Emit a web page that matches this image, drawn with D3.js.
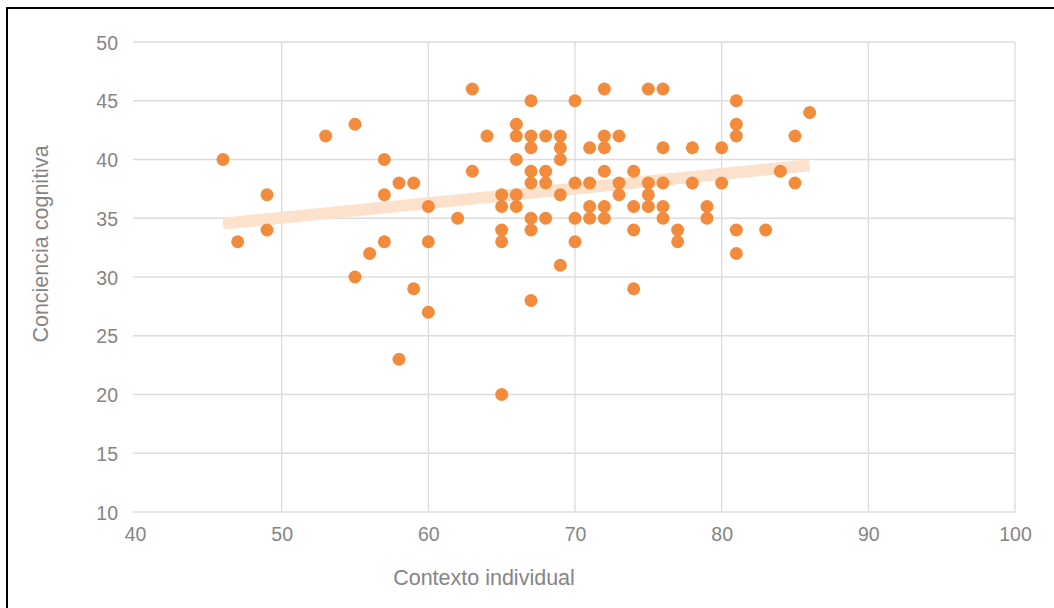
<!DOCTYPE html>
<html><head><meta charset="utf-8">
<script src="https://cdn.jsdelivr.net/npm/d3@7"></script>
<style>html,body{margin:0;padding:0;background:#fff;}</style>
</head><body>
<svg id="chart" width="1054" height="608"></svg>
<script>
// Data: Contexto individual (x) vs Conciencia cognitiva (y)
const contextoIndividual = [46,47,49,49,53,55,55,56,57,57,57,58,58,59,59,60,60,60,62,63,63,64,
  65,65,65,65,65,66,66,66,66,66,67,67,67,67,67,67,67,67,68,68,68,68,69,69,69,69,69,
  70,70,70,70,71,71,71,71,72,72,72,72,72,72,73,73,73,74,74,74,74,75,75,75,75,
  76,76,76,76,76,77,77,78,78,79,79,80,80,81,81,81,81,81,83,84,85,85,86];
const concienciaCognitiva = [40,33,37,34,42,43,30,32,40,37,33,38,23,38,29,36,33,27,35,46,39,42,
  37,36,34,33,20,43,42,40,37,36,45,42,41,39,38,35,34,28,42,39,38,35,42,41,40,37,31,
  45,38,35,33,41,38,36,35,46,42,41,39,36,35,42,38,37,39,36,34,29,46,38,37,36,
  46,41,38,36,35,34,33,41,38,36,35,41,38,45,43,42,34,32,34,39,42,38,44];
const xTicks = [40,50,60,70,80,90,100];
const yTicks = [10,15,20,25,30,35,40,45,50];
const xTitle = "Contexto individual";
const yTitle = "Conciencia cognitiva";

const svg = d3.select("#chart");
// frame
svg.append("rect").attr("x",7).attr("y",8).attr("width",1060).attr("height",620)
  .attr("fill","none").attr("stroke","#000").attr("stroke-width",2);

const x = d3.scaleLinear().domain([40,100]).range([135,1015]);
const y = d3.scaleLinear().domain([10,50]).range([512,42]);

// grid
svg.append("g").selectAll("line").data(yTicks).join("line")
  .attr("x1",133).attr("x2",1015).attr("y1",d=>y(d)).attr("y2",d=>y(d))
  .attr("stroke","#dcdcdc").attr("stroke-width",1.3);
svg.append("g").selectAll("line").data(xTicks.filter(d=>d>40)).join("line")
  .attr("x1",d=>x(d)).attr("x2",d=>x(d)).attr("y1",42).attr("y2",512)
  .attr("stroke","#dcdcdc").attr("stroke-width",1.3);

// axes labels via d3 axes
const font = "Arial, 'Liberation Sans', sans-serif";
const yAxis = svg.append("g").attr("transform","translate(118,0)")
  .call(d3.axisLeft(y).tickValues(yTicks).tickSize(0).tickPadding(0));
yAxis.select(".domain").remove();
yAxis.selectAll("text").attr("font-family",font).attr("font-size",19.5).attr("fill","#858585").attr("dy","0.36em");

const xAxis = svg.append("g").attr("transform","translate(0,526)")
  .call(d3.axisBottom(x).tickValues(xTicks).tickSize(0).tickPadding(0));
xAxis.select(".domain").remove();
xAxis.selectAll("text").attr("font-family",font).attr("font-size",19.5).attr("fill","#858585").attr("dy","0.76em");

// titles
svg.append("text").attr("x",484).attr("y",585).attr("text-anchor","middle")
  .attr("font-family",font).attr("font-size",21.5).attr("fill","#858585").text(xTitle);
svg.append("text").attr("transform","translate(48,244) rotate(-90)").attr("text-anchor","middle")
  .attr("font-family",font).attr("font-size",21.5).attr("fill","#858585").text(yTitle);

// trendline (least squares)
const pts = contextoIndividual.map((v,i)=>[v,concienciaCognitiva[i]]);
const mx = d3.mean(pts,d=>d[0]), my = d3.mean(pts,d=>d[1]);
const slope = d3.sum(pts,d=>(d[0]-mx)*(d[1]-my))/d3.sum(pts,d=>(d[0]-mx)**2);
const icpt = my - slope*mx;
const [x0,x1] = d3.extent(contextoIndividual);
svg.append("line").attr("x1",x(x0)).attr("x2",x(x1))
  .attr("y1",y(icpt+slope*x0)).attr("y2",y(icpt+slope*x1))
  .attr("stroke","#fce2cc").attr("stroke-width",12);

// points
svg.append("g").selectAll("circle").data(pts).join("circle")
  .attr("cx",d=>x(d[0])).attr("cy",d=>y(d[1])).attr("r",6.5)
  .attr("fill","#f38b3c");
</script>
</body></html>
